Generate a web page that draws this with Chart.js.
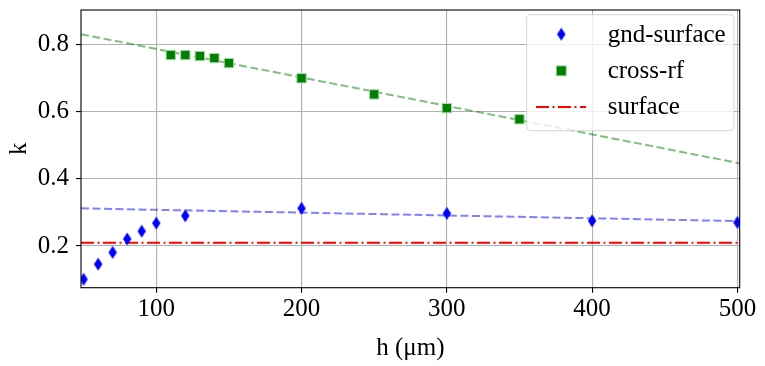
<!DOCTYPE html>
<html>
<head>
<meta charset="utf-8">
<script src="https://cdn.jsdelivr.net/npm/chart.js@4"></script>
<style>
  html, body { margin:0; padding:0; background:#fff; }
  #wrap { width:765px; height:366px; }
</style>
</head>
<body>
<div id="wrap"><canvas id="kChart" width="765" height="366"></canvas></div>
<script>
// ---- data ----
const hGnd = [50, 60, 70, 80, 90, 100, 120, 200, 300, 400, 500];
const kGnd = [0.101, 0.146, 0.181, 0.221, 0.244, 0.268, 0.290, 0.312, 0.297, 0.275, 0.270];

const hCross = [110, 120, 130, 140, 150, 200, 250, 300, 350];
const kCross = [0.768, 0.768, 0.765, 0.759, 0.744, 0.699, 0.651, 0.610, 0.577];

// fitted trend lines (end points as seen at the axis edges)
const fitH = [48.2, 501.6];
const fitGndK = [0.312, 0.274];
const fitCrossK = [0.830, 0.446];

// surface reference level
const surfaceK = 0.210;

const xTicks = [100, 200, 300, 400, 500];
const yTicks = [0.2, 0.4, 0.6, 0.8];

const X_MIN = 48.2, X_MAX = 501.6;
const Y_MIN = 0.076, Y_MAX = 0.902;

const FONT = "'Liberation Serif', 'Times New Roman', serif";

// thin diamond marker (matplotlib 'd')
function makeDiamond(){
  const c = document.createElement('canvas');
  c.width = 10; c.height = 14;
  const g = c.getContext('2d');
  g.fillStyle = '#0000ff';
  g.beginPath();
  g.moveTo(5, 0.6);
  g.lineTo(9.2, 7);
  g.lineTo(5, 13.4);
  g.lineTo(0.8, 7);
  g.closePath();
  g.fill();
  return c;
}
const diamond = makeDiamond();

const pts = (xs, ys) => xs.map((x, i) => ({x: x, y: ys[i]}));

// ---- frame + legend inside the axes ----
const framePlugin = {
  id: 'frame',
  afterDatasetsDraw(chart){
    const a = chart.chartArea, ctx = chart.ctx;
    ctx.save();
    ctx.strokeStyle = '#000';
    ctx.lineWidth = 1.1;
    ctx.strokeRect(a.left, a.top, a.right - a.left, a.bottom - a.top);
    ctx.restore();
  }
};

const legendEntries = [
  {label: 'gnd-surface', kind: 'diamond'},
  {label: 'cross-rf', kind: 'square'},
  {label: 'surface', kind: 'dashdot'}
];

const boxLegend = {
  id: 'boxLegend',
  afterDraw(chart){
    const a = chart.chartArea, ctx = chart.ctx;
    const w = 207.3, h = 116;
    const x0 = a.right - 5.7 - w, y0 = a.top + 4.7;
    ctx.save();
    ctx.beginPath();
    ctx.roundRect(x0, y0, w, h, 4);
    ctx.fillStyle = 'rgba(255,255,255,0.8)';
    ctx.fill();
    ctx.strokeStyle = 'rgba(204,204,204,0.8)';
    ctx.lineWidth = 1;
    ctx.stroke();

    const rows = [27, 63.6, 99.3];
    ctx.font = '25px ' + FONT;
    ctx.fillStyle = '#000';
    ctx.textBaseline = 'alphabetic';
    legendEntries.forEach((e, i) => {
      const cy = y0 + rows[i] - 7.5;
      const mx = x0 + 34.6;
      if(e.kind === 'diamond'){
        ctx.drawImage(diamond, mx - 5, cy - 7, 10, 14);
      } else if(e.kind === 'square'){
        ctx.fillStyle = '#a8d8a8';
        ctx.fillRect(mx - 5.5, cy - 5.5, 11, 11);
        ctx.fillStyle = '#008000';
        ctx.fillRect(mx - 4.5, cy - 4.5, 9, 9);
      } else {
        ctx.strokeStyle = '#ff0000';
        ctx.lineWidth = 2;
        ctx.setLineDash([13, 3.5, 2, 3.5]);
        ctx.beginPath();
        ctx.moveTo(x0 + 9.3, cy + 0.5);
        ctx.lineTo(x0 + 59.3, cy + 0.5);
        ctx.stroke();
        ctx.setLineDash([]);
      }
      ctx.fillStyle = '#000';
      ctx.fillText(e.label, x0 + 81, y0 + rows[i]);
    });
    ctx.restore();
  }
};

Chart.defaults.font.family = FONT;
Chart.defaults.font.size = 25;
Chart.defaults.color = '#000';

new Chart(document.getElementById('kChart'), {
  type: 'scatter',
  data: {
    datasets: [
      {
        label: 'gnd-surface',
        data: pts(hGnd, kGnd),
        pointStyle: diamond,
        backgroundColor: '#0000ff',
        borderColor: '#0000ff',
        showLine: false,
        clip: 0
      },
      {
        label: 'cross-rf',
        data: pts(hCross, kCross),
        pointStyle: 'rect',
        pointRadius: 6.6,
        backgroundColor: '#008000',
        borderColor: '#a8d8a8',
        borderWidth: 1,
        showLine: false,
        clip: 0
      },
      {
        label: 'gnd fit',
        data: pts(fitH, fitGndK),
        showLine: true,
        pointRadius: 0,
        borderColor: 'rgba(0,0,255,0.5)',
        borderWidth: 2,
        borderDash: [8, 3.5],
        clip: 0
      },
      {
        label: 'cross fit',
        data: pts(fitH, fitCrossK),
        showLine: true,
        pointRadius: 0,
        borderColor: 'rgba(0,128,0,0.5)',
        borderWidth: 2,
        borderDash: [8, 3.5],
        clip: 0
      },
      {
        label: 'surface',
        data: pts(fitH, [surfaceK, surfaceK]),
        showLine: true,
        pointRadius: 0,
        borderColor: '#ff0000',
        borderWidth: 2,
        borderDash: [13, 3.5, 2, 3.5],
        clip: 0
      }
    ]
  },
  options: {
    responsive: false,
    animation: false,
    events: [],
    layout: { autoPadding: false, padding: { left: 0, top: 10, right: 25.3, bottom: 0 } },
    plugins: {
      legend: { display: false },
      tooltip: { enabled: false }
    },
    scales: {
      x: {
        type: 'linear',
        min: X_MIN,
        max: X_MAX,
        afterFit(s){ s.height = 78.3; s.paddingLeft = 0; s.paddingRight = 0; },
        afterBuildTicks(s){ s.ticks = xTicks.map(v => ({value: v})); },
        ticks: {
          includeBounds: false,
          padding: 2,
          maxRotation: 0,
          callback: v => String(v)
        },
        grid: { color: '#b0b0b0', lineWidth: 1.1, tickColor: '#000', tickLength: 5 },
        border: { display: false },
        title: { display: true, text: 'h (μm)', padding: { top: 0, bottom: 3 } }
      },
      y: {
        type: 'linear',
        min: Y_MIN,
        max: Y_MAX,
        afterFit(s){ s.width = 81; s.paddingTop = 0; s.paddingBottom = 0; },
        afterBuildTicks(s){ s.ticks = yTicks.map(v => ({value: v})); },
        ticks: {
          includeBounds: false,
          padding: 7,
          callback: v => v.toFixed(1)
        },
        grid: { color: '#b0b0b0', lineWidth: 1.1, tickColor: '#000', tickLength: 5 },
        border: { display: false },
        title: { display: true, text: 'k', padding: { top: 4, bottom: 0 } }
      }
    }
  },
  plugins: [framePlugin, boxLegend]
});
</script>
</body>
</html>
